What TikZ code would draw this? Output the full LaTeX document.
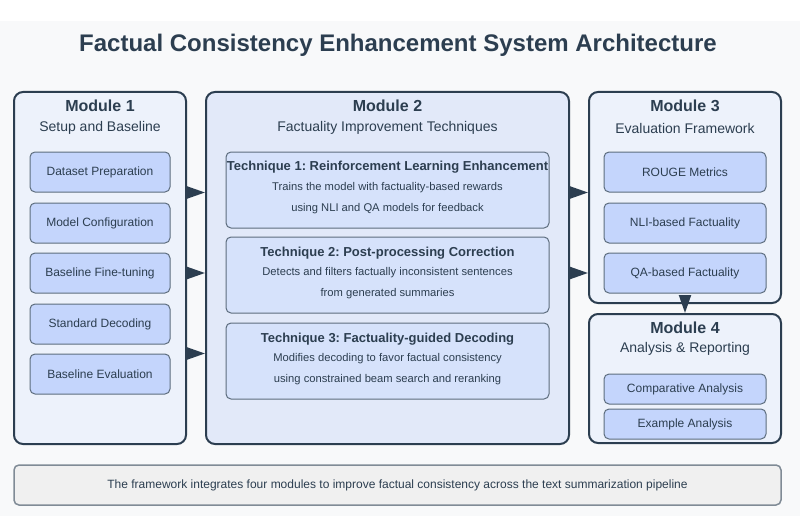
\documentclass[tikz,border=0pt]{standalone}
\usepackage{fontspec}
\setmainfont{Liberation Sans}
\usetikzlibrary{arrows.meta}
\definecolor{dark}{HTML}{2C3E50}
\definecolor{bgc}{HTML}{F8F9FA}
\definecolor{mone}{HTML}{EDF2FB}
\definecolor{mtwo}{HTML}{E2E9F9}
\definecolor{innerfill}{HTML}{C4D5FC}
\definecolor{innerdraw}{HTML}{5D6D7E}
\definecolor{techfill}{HTML}{D6E2FB}
\definecolor{notefill}{HTML}{F0F0F0}
\definecolor{notedraw}{HTML}{808B96}
\frenchspacing
\tikzset{
  module/.style={draw=dark, line width=2pt, rounded corners=9pt, inner sep=0pt},
  innerbox/.style={draw=innerdraw, line width=1pt, fill=innerfill, rounded corners=5pt, inner sep=0pt, text=dark, font=\fontsize{12}{14}\selectfont},
  techbox/.style={draw=innerdraw, line width=1pt, fill=techfill, rounded corners=5pt, inner sep=0pt},
  modtitle/.style={text=dark, font=\fontsize{16}{18}\selectfont\bfseries, inner sep=0pt},
  modsub/.style={text=dark, font=\fontsize{14}{16}\selectfont, inner sep=0pt},
  techtitle/.style={text=dark, font=\fontsize{13}{15}\selectfont\bfseries, inner sep=0pt},
  techtext/.style={text=dark, font=\fontsize{11.2}{13}\selectfont, inner sep=0pt},
  arr/.style={draw=dark, line width=2pt, -{Triangle[length=18pt,width=12pt]}},
}
\begin{document}
\begin{tikzpicture}[x=1pt,y=-1pt]
\useasboundingbox (0,0) rectangle (800,516);
\fill[white] (0,0) rectangle (800,21);
\fill[bgc] (0,21) rectangle (800,516);
\node[text=dark, font=\fontsize{24}{28}\selectfont\bfseries, inner sep=0pt] (title) at (398,45) {Factual Consistency Enhancement System Architecture};

% Module 1
\node[module, fill=mone, minimum width=172pt, minimum height=352pt] (m1) at (100,268) {};
\node[modtitle] (m1t) at (100,106) {Module 1};
\node[modsub] (m1s) at (100,128) {Setup and Baseline};
\node[innerbox, minimum width=140pt, minimum height=40pt] (a1) at (100,172) {Dataset Preparation};
\node[innerbox, minimum width=140pt, minimum height=40pt] (a2) at (100,223) {Model Configuration};
\node[innerbox, minimum width=140pt, minimum height=40pt] (a3) at (100,273) {Baseline Fine-tuning};
\node[innerbox, minimum width=140pt, minimum height=40pt] (a4) at (100,324) {Standard Decoding};
\node[innerbox, minimum width=140pt, minimum height=40pt] (a5) at (100,374) {Baseline Evaluation};

% Module 2
\node[module, fill=mtwo, minimum width=363pt, minimum height=352pt] (m2) at (387.5,268) {};
\node[modtitle] (m2t) at (387.5,106) {Module 2};
\node[modsub] (m2s) at (387.5,128) {Factuality Improvement Techniques};
\node[techbox, minimum width=323pt, minimum height=76pt] (t1) at (387.5,190) {};
\node[techtitle] (t1t) at (387.5,167) {Technique 1: Reinforcement Learning Enhancement};
\node[techtext] (t1a) at (387.5,188) {Trains the model with factuality-based rewards};
\node[techtext] (t1b) at (387.5,209) {using NLI and QA models for feedback};
\node[techbox, minimum width=323pt, minimum height=76pt] (t2) at (387.5,275) {};
\node[techtitle] (t2t) at (387.5,253) {Technique 2: Post-processing Correction};
\node[techtext] (t2a) at (387.5,273) {Detects and filters factually inconsistent sentences};
\node[techtext] (t2b) at (387.5,294) {from generated summaries};
\node[techbox, minimum width=323pt, minimum height=76pt] (t3) at (387.5,361) {};
\node[techtitle] (t3t) at (387.5,339) {Technique 3: Factuality-guided Decoding};
\node[techtext] (t3a) at (387.5,359) {Modifies decoding to favor factual consistency};
\node[techtext] (t3b) at (387.5,380) {using constrained beam search and reranking};

% Module 3
\node[module, fill=mone, minimum width=192pt, minimum height=211pt] (m3) at (685,197.5) {};
\node[modtitle] (m3t) at (685,106) {Module 3};
\node[modsub] (m3s) at (685,128) {Evaluation Framework};
\node[innerbox, minimum width=162pt, minimum height=40pt] (c1) at (685,172) {ROUGE Metrics};
\node[innerbox, minimum width=162pt, minimum height=40pt] (c2) at (685,223) {NLI-based Factuality};
\node[innerbox, minimum width=162pt, minimum height=40pt] (c3) at (685,273) {QA-based Factuality};

% Module 4
\node[module, fill=mone, minimum width=192pt, minimum height=129pt] (m4) at (685,378.5) {};
\node[modtitle] (m4t) at (685,328) {Module 4};
\node[modsub] (m4s) at (685,349) {Analysis \& Reporting};
\node[innerbox, minimum width=162pt, minimum height=30pt] (d1) at (685,389) {Comparative Analysis};
\node[innerbox, minimum width=162pt, minimum height=30pt] (d2) at (685,424) {Example Analysis};

% Arrows
\draw[arr] (m1.east |- a1.south) -- (m2.west |- a1.south);
\draw[arr] (m1.east |- a3.center) -- (m2.west |- a3.center);
\draw[arr] (m1.east |- a5.north) -- (m2.west |- a5.north);
\draw[arr] (m2.east |- c1.south) -- (m3.west |- c1.south);
\draw[arr] (m2.east |- c3.center) -- (m3.west |- c3.center);
\draw[arr] (m3.south) -- (m4.north);

% Note
\node[draw=notedraw, line width=1.5pt, fill=notefill, rounded corners=5pt, minimum width=767pt, minimum height=40pt, inner sep=0pt, text=dark, font=\fontsize{12}{14}\selectfont] (note) at (397.5,485) {The framework integrates four modules to improve factual consistency across the text summarization pipeline};
\end{tikzpicture}
\end{document}
